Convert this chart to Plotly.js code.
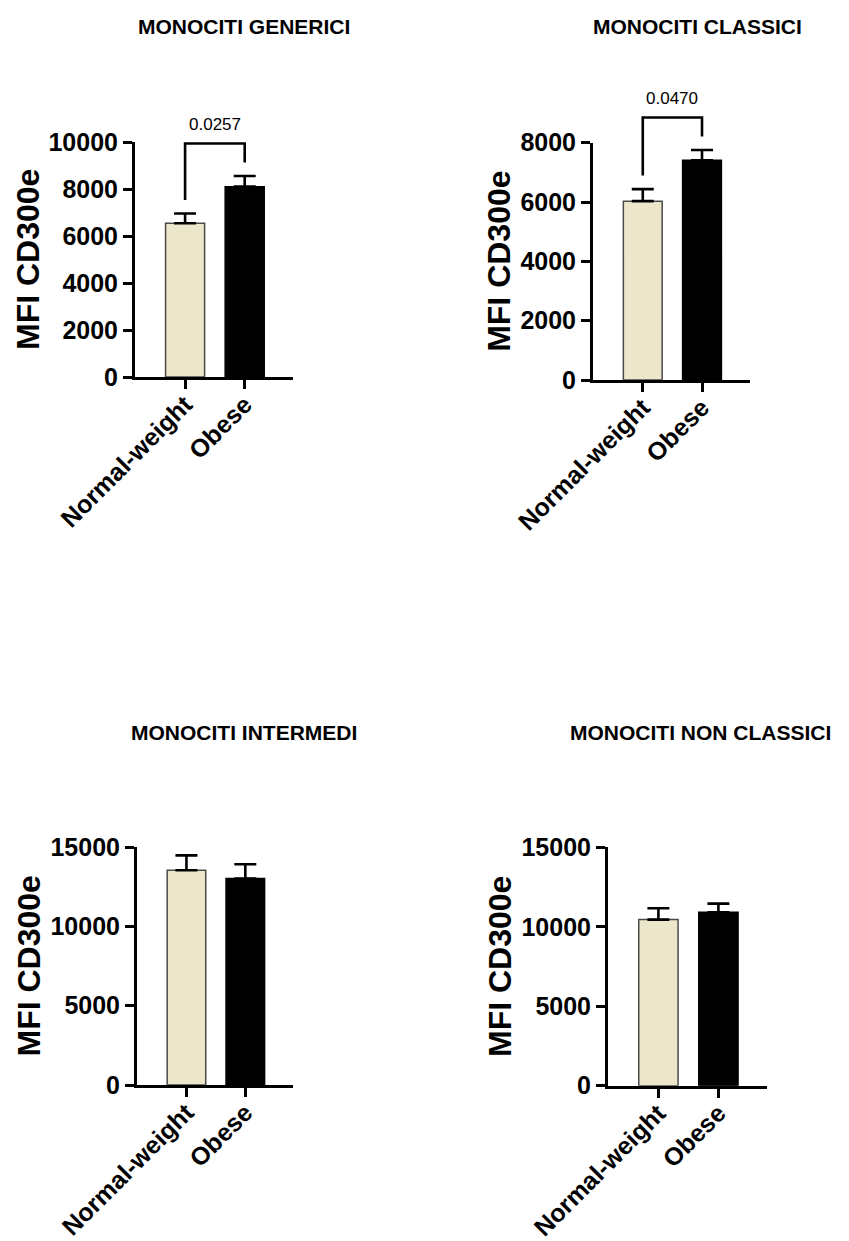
<!DOCTYPE html>
<html>
<head>
<meta charset="utf-8">
<script src="https://cdn.plot.ly/plotly-3.0.1.min.js"></script>
<style>html,body{margin:0;padding:0;background:#fff;}#chart{width:849px;height:1241px;}</style>
</head>
<body>
<div id="chart"></div>
<script>
// ---- data ----
const categories = ['Normal-weight', 'Obese'];
const panelTitles = ['MONOCITI GENERICI', 'MONOCITI CLASSICI', 'MONOCITI INTERMEDI', 'MONOCITI NON CLASSICI'];
const yAxisTitle = 'MFI CD300e';
const meanGenerici = [6540, 8100];
const semGenerici = [420, 455];
const meanClassici = [6030, 7410];
const semClassici = [405, 345];
const meanIntermedi = [13530, 13010];
const semIntermedi = [945, 900];
const meanNonClassici = [10450, 10915];
const semNonClassici = [715, 540];
const yMax = [10000, 8000, 15000, 15000];
const yStep = [2000, 2000, 5000, 5000];
const pValues = ['0.0257', '0.0470', null, null];
const barColors = ['#ECE6CA', '#000000'];
const barLineColors = ['#4a4a4a', '#000000'];

const means = [meanGenerici, meanClassici, meanIntermedi, meanNonClassici];
const sems = [semGenerici, semClassici, semIntermedi, semNonClassici];

// ---- layout geometry (px) ----
const W = 849, H = 1241;
const FONT = 'Liberation Sans, Arial, Helvetica, sans-serif';
const panels = [
  {left: 135, right: 293, top: 142, bottom: 377},
  {left: 593, right: 750, top: 142.7, bottom: 380},
  {left: 137, right: 293, top: 847, bottom: 1085},
  {left: 608, right: 767, top: 847.3, bottom: 1085.7}
];
const xRange = [-0.84, 1.81];
const titlePos = [[244, 26.5], [697.5, 26.5], [244, 732], [700, 732]];
const yTitleX = [28.5, 499.5, 28.5, 499.5];

const xIdx = categories.map((c, i) => i);
const traces = [];
const layout = {
  width: W, height: H,
  margin: {l: 0, r: 0, t: 0, b: 0},
  paper_bgcolor: '#fff', plot_bgcolor: 'rgba(0,0,0,0)',
  showlegend: false,
  font: {family: FONT, color: '#000'},
  annotations: [], shapes: []
};

function pxX(p, v) { const g = panels[p]; return g.left + (v - xRange[0]) / (xRange[1] - xRange[0]) * (g.right - g.left); }
function pxY(p, v) { const g = panels[p]; return g.bottom - v / yMax[p] * (g.bottom - g.top); }

panels.forEach((g, p) => {
  const n = p === 0 ? '' : String(p + 1);
  traces.push({
    type: 'bar',
    x: xIdx,
    y: means[p],
    width: 0.655,
    xaxis: 'x' + n, yaxis: 'y' + n,
    marker: {color: barColors, line: {color: barLineColors, width: 1.5}},
    error_y: {type: 'data', symmetric: false, array: sems[p], arrayminus: sems[p].map(() => 0),
              color: '#000', thickness: 2.6, width: 11},
    hoverinfo: 'skip'
  });
  const ticks = [];
  for (let v = 0; v <= yMax[p]; v += yStep[p]) ticks.push(v);
  layout['xaxis' + n] = {
    domain: [g.left / W, g.right / W],
    anchor: 'y' + n,
    range: xRange,
    tickmode: 'array', tickvals: xIdx, ticktext: categories,
    tickangle: -45,
    ticklabelstandoff: -9,
    ticks: 'outside', ticklen: 9, tickwidth: 3, tickcolor: '#000',
    showline: true, linewidth: 3, linecolor: '#000',
    showgrid: false, zeroline: false, fixedrange: true,
    tickfont: {family: FONT, size: 25, weight: 'bold', color: '#000'}
  };
  layout['yaxis' + n] = {
    domain: [1 - g.bottom / H, 1 - g.top / H],
    anchor: 'x' + n,
    range: [0, yMax[p]],
    tickmode: 'array', tickvals: ticks, ticktext: ticks.map(String),
    ticks: 'outside', ticklen: 9, tickwidth: 3, tickcolor: '#000',
    showline: true, linewidth: 3, linecolor: '#000',
    showgrid: false, zeroline: false, fixedrange: true,
    tickfont: {family: FONT, size: 25, weight: 'bold', color: '#000'}
  };
  // panel title
  layout.annotations.push({
    text: panelTitles[p], xref: 'paper', yref: 'paper',
    x: titlePos[p][0] / W, y: 1 - titlePos[p][1] / H, xanchor: 'center', yanchor: 'middle',
    showarrow: false, font: {family: FONT, size: 21, weight: 'bold', color: '#000'}
  });
  // y axis title
  layout.annotations.push({
    text: yAxisTitle, xref: 'paper', yref: 'paper', textangle: -90,
    x: yTitleX[p] / W, y: 1 - (g.top + g.bottom) / 2 / H, xanchor: 'center', yanchor: 'middle',
    showarrow: false, font: {family: FONT, size: 32, weight: 'bold', color: '#000'}
  });
  // significance bracket
  if (pValues[p]) {
    const legs = xIdx.map(i => ({x: pxX(p, i), y: pxY(p, means[p][i] + sems[p][i]) - 13.5}));
    const topY = Math.min(legs[0].y, legs[1].y) - 19;
    const path = 'M' + (legs[0].x / W) + ',' + (1 - legs[0].y / H) +
                 ' L' + (legs[0].x / W) + ',' + (1 - topY / H) +
                 ' L' + (legs[1].x / W) + ',' + (1 - topY / H) +
                 ' L' + (legs[1].x / W) + ',' + (1 - legs[1].y / H);
    layout.shapes.push({type: 'path', xref: 'paper', yref: 'paper', path: path,
                        line: {color: '#000', width: 2.6}});
    layout.annotations.push({
      text: pValues[p], xref: 'paper', yref: 'paper',
      x: (legs[0].x + legs[1].x) / 2 / W, y: 1 - (topY - 19) / H, xanchor: 'center', yanchor: 'middle',
      showarrow: false, font: {family: FONT, size: 17, color: '#000'}
    });
  }
});

Plotly.newPlot('chart', traces, layout, {displayModeBar: false, staticPlot: true});
</script>
</body>
</html>
